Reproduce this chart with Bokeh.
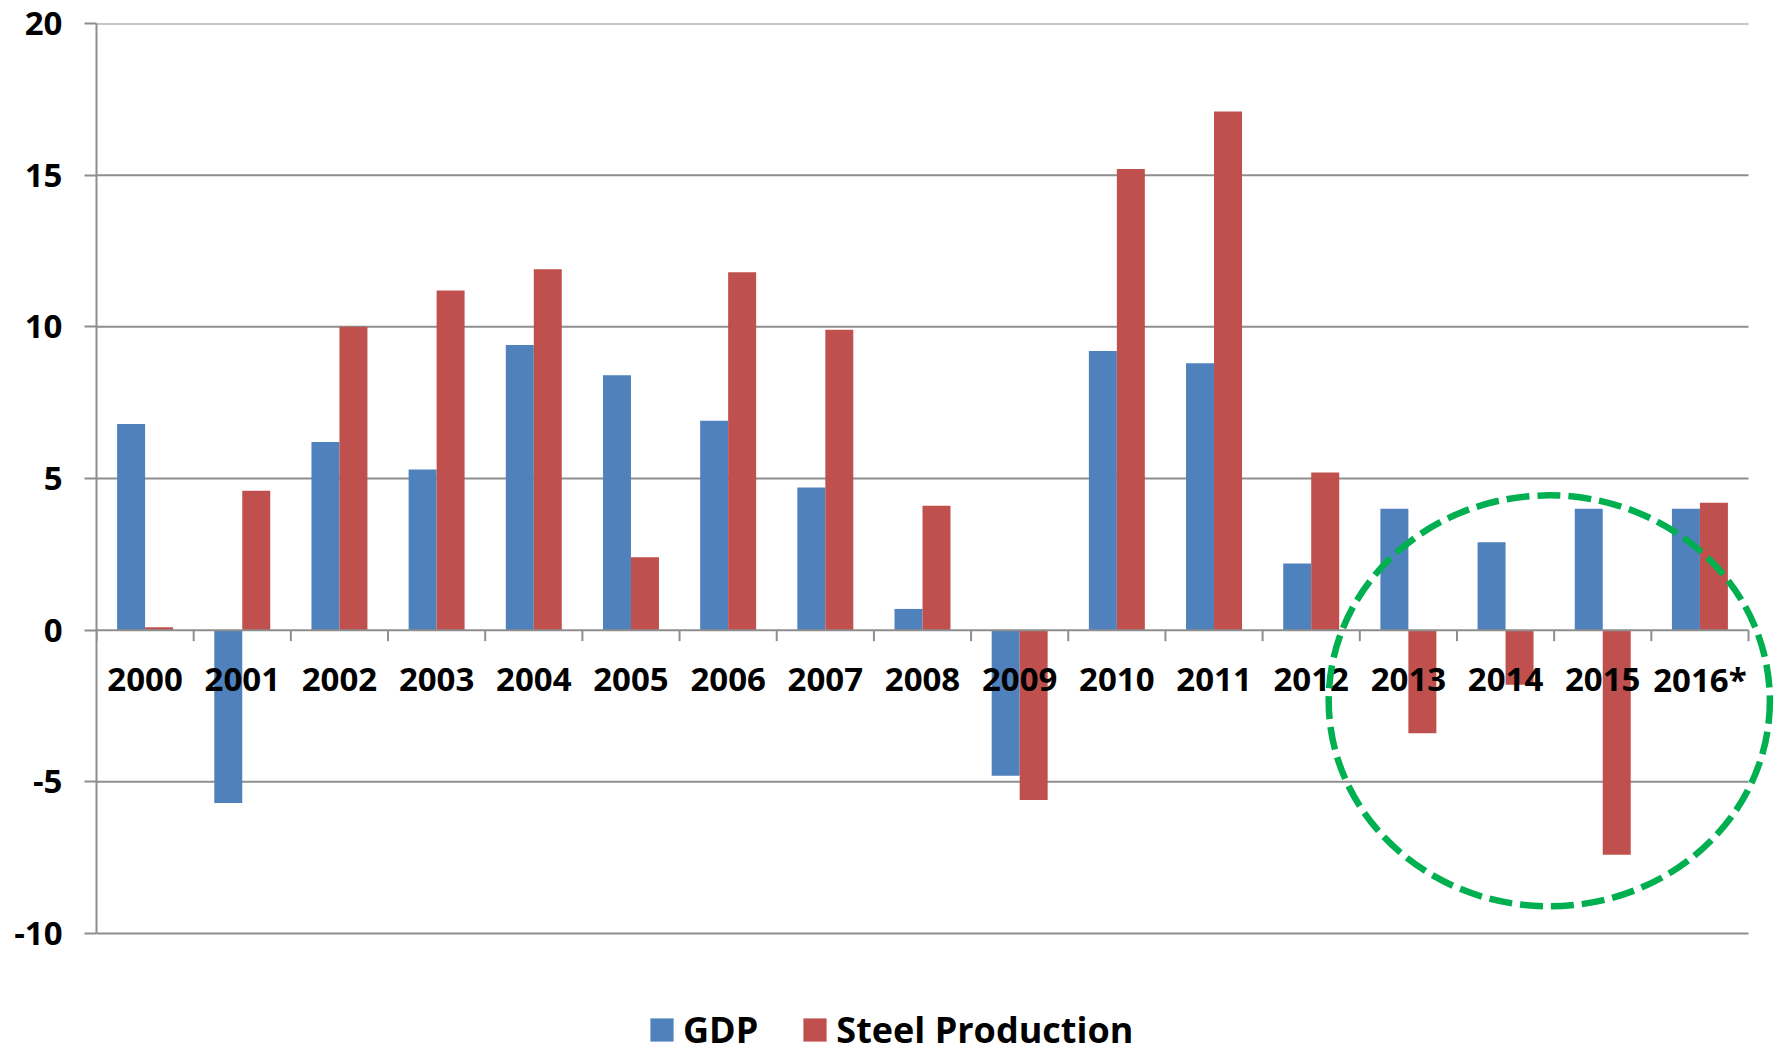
from bokeh.plotting import figure
from bokeh.models import Range1d, FixedTicker, Legend, LegendItem, ColumnDataSource
from bokeh.core.properties import value
from bokeh.embed import file_html
from bokeh.resources import INLINE

# ---- data ----
years = ["2000", "2001", "2002", "2003", "2004", "2005", "2006", "2007", "2008",
         "2009", "2010", "2011", "2012", "2013", "2014", "2015", "2016*"]
gdp = [6.8, -5.7, 6.2, 5.3, 9.4, 8.4, 6.9, 4.7, 0.7, -4.8, 9.2, 8.8, 2.2, 4.0, 2.9, 4.0, 4.0]
steel = [0.1, 4.6, 10.0, 11.2, 11.9, 2.4, 11.8, 9.9, 4.1, -5.6, 15.2, 17.1, 5.2, -3.4, -1.8, -7.4, 4.2]
y_ticks = [-10, -5, 0, 5, 10, 15, 20]
series_names = ["GDP", "Steel Production"]
highlight_years = ["2013", "2014", "2015", "2016*"]

# ---- style / layout ----
BLUE = "#4F81BD"
RED = "#C0504D"
GREEN = "#00B050"
GRAY = "#8E8E8E"
FONT = "Open Sans"
BAR_W = 0.288
W, H = 1778, 1054
LEFT, TOP = 96, 23          # frame left / top (px)
PLOT_RIGHT = 1748           # px where the category area ends
Y_BOTTOM_PX = 933           # px of the lowest tick
TICK_PX = 11

n = len(years)
idx = list(range(n))
y_lo, y_hi = min(y_ticks), max(y_ticks)
px_per_x = (PLOT_RIGHT - LEFT) / n
px_per_y = (Y_BOTTOM_PX - TOP) / (y_hi - y_lo)
x_end = (n - 0.5) + (W - PLOT_RIGHT) / px_per_x
y_start = y_lo - (H - Y_BOTTOM_PX) / px_per_y

src = ColumnDataSource(dict(
    x_gdp=[i - BAR_W / 2 for i in idx],
    x_steel=[i + BAR_W / 2 for i in idx],
    gdp=gdp, steel=steel,
))

p = figure(width=W, height=H,
           x_range=Range1d(-0.5, x_end), y_range=Range1d(y_start, y_hi),
           output_backend="svg", toolbar_location=None,
           x_axis_location=None, y_axis_location="left",
           min_border_left=LEFT, min_border_top=TOP, min_border_right=0, min_border_bottom=0)
p.outline_line_color = None
p.xgrid.visible = False
p.ygrid.visible = False

# gridlines (horizontal, bounded to the category area)
grid_vals = [t for t in y_ticks if t != 0]
p.segment(x0=[-0.5] * len(grid_vals), x1=[n - 0.5] * len(grid_vals),
          y0=grid_vals, y1=grid_vals, line_color=GRAY, line_width=2, level="underlay")

# bars
r_gdp = p.vbar(x="x_gdp", top="gdp", bottom=0, width=BAR_W, source=src,
               fill_color=BLUE, line_color=None)
r_steel = p.vbar(x="x_steel", top="steel", bottom=0, width=BAR_W, source=src,
                 fill_color=RED, line_color=None)

# category axis at y = 0 : line, boundary ticks, labels
bounds = [i - 0.5 for i in range(n + 1)]
p.segment(x0=[-0.5], x1=[n - 0.5], y0=[0], y1=[0], line_color=GRAY, line_width=2)
p.segment(x0=bounds, x1=bounds, y0=[0] * len(bounds), y1=[-TICK_PX / px_per_y] * len(bounds),
          line_color=GRAY, line_width=2)
p.text(x=idx, y=[0] * n, text=years, y_offset=49,
       text_font=value(FONT), text_font_style="bold", text_font_size="33px",
       text_color="black", text_align="center", text_baseline="alphabetic")

# highlight ellipse around recent years
hi = [years.index(y) for y in highlight_years]
cx = (min(hi) + max(hi)) / 2 - 0.05
p.ellipse(x=[cx], y=[-2.33], width=[4.54], height=[13.55],
          fill_color=None, line_color=GREEN, line_width=6.5, line_dash="23 8")

# y axis
ya = p.yaxis[0]
ya.ticker = FixedTicker(ticks=y_ticks, minor_ticks=[])
ya.major_label_overrides = {t: str(t) for t in y_ticks}
ya.bounds = (y_lo, y_hi)
ya.axis_line_color = GRAY
ya.axis_line_width = 2
ya.major_tick_line_color = GRAY
ya.major_tick_line_width = 2
ya.major_tick_out = 12
ya.major_tick_in = 0
ya.major_label_text_font = FONT
ya.major_label_text_font_style = "bold"
ya.major_label_text_font_size = "33px"
ya.major_label_text_color = "black"
ya.major_label_standoff = 22

legend = Legend(items=[LegendItem(label=series_names[0], renderers=[r_gdp]),
                       LegendItem(label=series_names[1], renderers=[r_steel])],
                orientation="horizontal", location=(647 - LEFT, 0),
                label_text_font=FONT, label_text_font_style="bold",
                label_text_font_size="36px", label_text_color="black",
                glyph_width=29, glyph_height=29, label_standoff=7, spacing=42,
                border_line_color=None, background_fill_alpha=0, padding=0, margin=0)
p.add_layout(legend, "center")

open("out.html", "w").write(file_html(p, INLINE))
